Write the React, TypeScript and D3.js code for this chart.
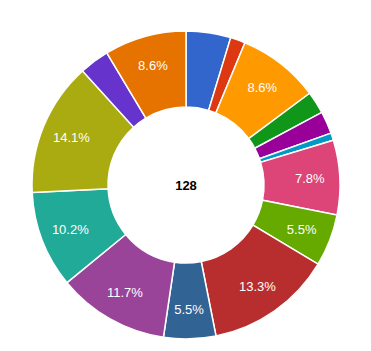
import React from "react";
import * as d3 from "d3";

const categories = ["A", "B", "C", "D", "E", "F", "G", "H", "I", "J", "K", "L", "M", "N", "O"];
const values = [6, 2, 11, 3, 3, 1, 10, 7, 17, 7, 15, 13, 18, 4, 11];
const colors = [
  "#3366cc", "#dc3912", "#ff9900", "#109618", "#990099", "#0099c6", "#dd4477",
  "#66aa00", "#b82e2e", "#316395", "#994499", "#22aa99", "#aaaa11", "#6633cc", "#e67300",
];
const centerLabel = "128";

export default function App() {
  const W = 371, H = 351;
  const cx = 186, cy = 185;
  const outerR = 154, innerR = 78, labelR = 124;
  const total = d3.sum(values);
  const pie = d3.pie<number>().sort(null).value((d) => d)(values);
  const arc = d3.arc<d3.PieArcDatum<number>>().innerRadius(innerR).outerRadius(outerR);
  const fmt = d3.format(".1f");
  return (
    <svg width={W} height={H} style={{ position: "absolute", left: 0, top: 0 }}>
      <rect width={W} height={H} fill="#fff" />
      <g transform={`translate(${cx},${cy})`}>
        {pie.map((p, i) => (
          <path key={categories[i]} d={arc(p) || ""} fill={colors[i]} stroke="#fff" strokeWidth={1.5} />
        ))}
        {pie.map((p, i) => {
          const pct = (values[i] / total) * 100;
          if (pct < 5) return null;
          const a = (p.startAngle + p.endAngle) / 2;
          const x = Math.sin(a) * labelR;
          const y = -Math.cos(a) * labelR;
          return (
            <text key={"l" + i} x={x} y={y} dy="0.35em" textAnchor="middle" fill="#fff"
              fontFamily="Arial, 'Liberation Sans', sans-serif" fontSize={13}>
              {fmt(pct)}%
            </text>
          );
        })}
        <text x={0} y={0} dy="0.35em" textAnchor="middle" fill="#000" fontWeight="bold"
          fontFamily="Arial, 'Liberation Sans', sans-serif" fontSize={13}>
          {centerLabel}
        </text>
      </g>
    </svg>
  );
}
